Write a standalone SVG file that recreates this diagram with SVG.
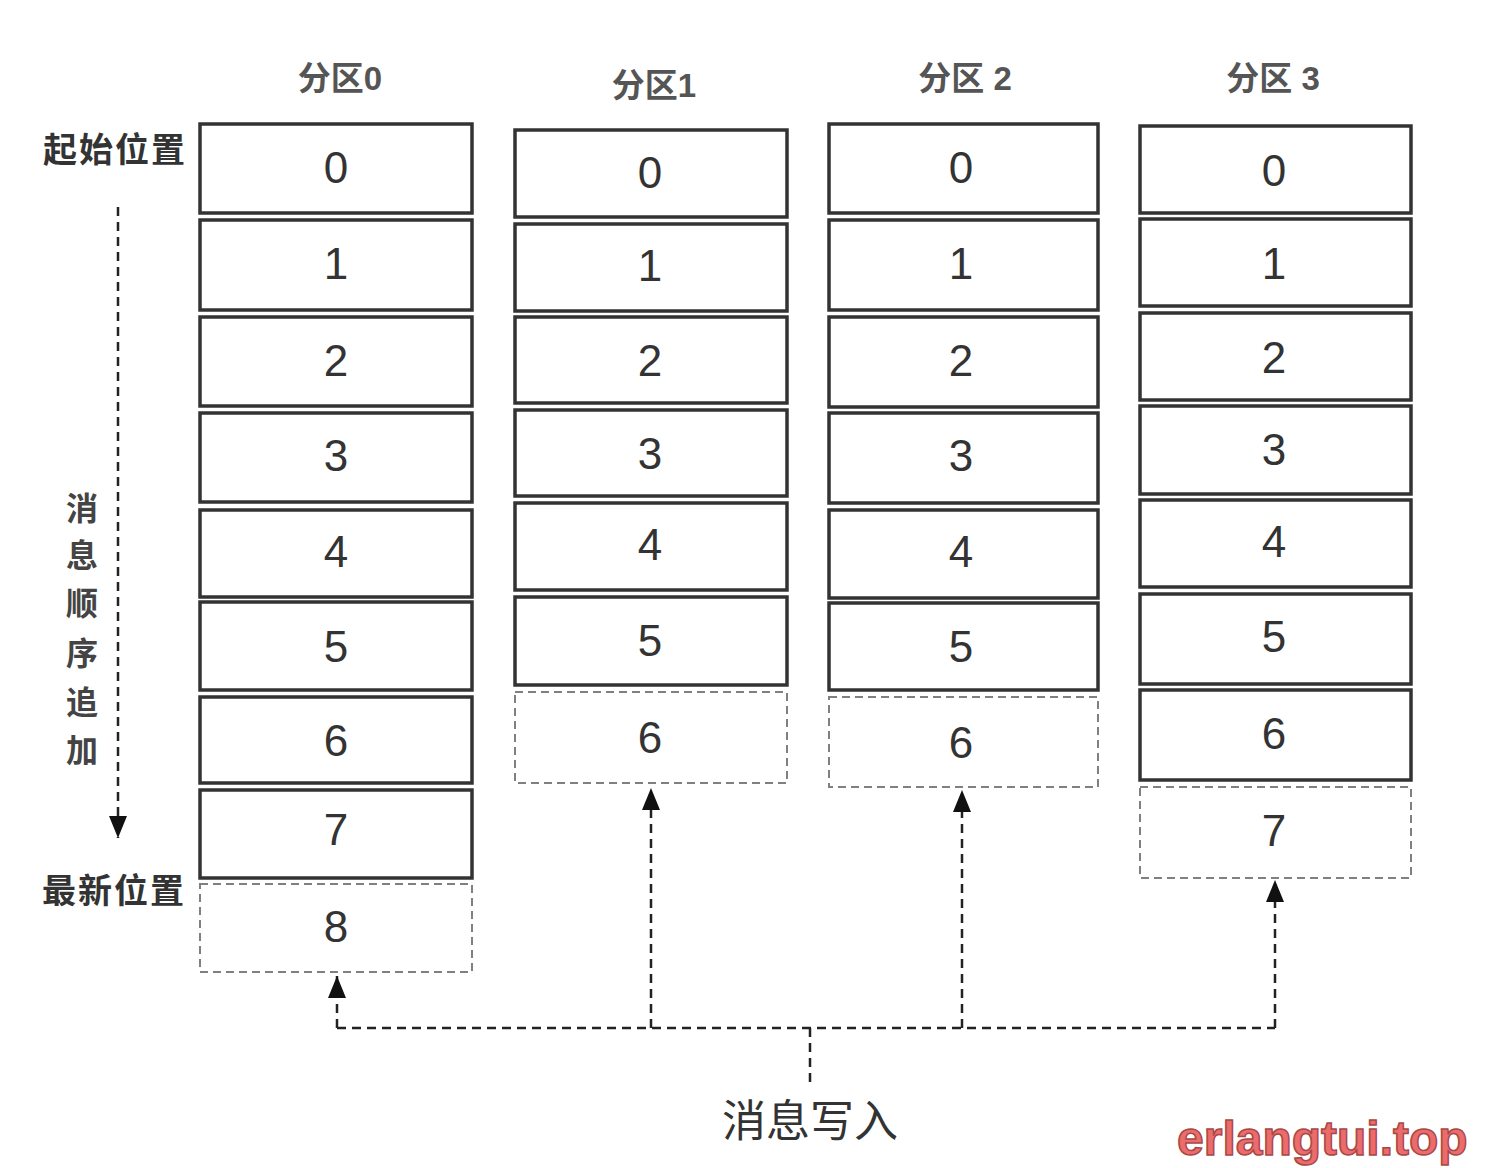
<svg xmlns="http://www.w3.org/2000/svg" width="1490" height="1168" viewBox="0 0 1490 1168">
<style>
.cell{fill:#fff;stroke:#333;stroke-width:3.5}
.pend{fill:#fff;stroke:#808080;stroke-width:2;stroke-dasharray:8 5}
.num{font-family:"Liberation Sans",Arial,sans-serif;font-size:44px;fill:#333;text-anchor:middle}
.hdr{font-family:"Liberation Sans","Noto Sans CJK SC",sans-serif;font-size:33px;fill:#555;text-anchor:middle;font-weight:bold}
.lbl{font-family:"Noto Sans CJK SC",sans-serif;font-size:34px;fill:#333;font-weight:bold}
.vch{font-family:"Noto Sans CJK SC",sans-serif;font-size:32px;fill:#444;text-anchor:middle;font-weight:bold}
.title{font-family:"Noto Sans CJK SC",sans-serif;font-size:44px;fill:#333;text-anchor:middle}
.conn{fill:none;stroke:#222;stroke-width:2.5;stroke-dasharray:9 6}
.wm{font-family:"Liberation Sans",Arial,sans-serif;font-size:48px;font-weight:bold;fill:#ec6b6b;stroke:#a84848;stroke-width:1.5}
</style>
<defs>
<marker id="arr" viewBox="0 0 10 10" refX="10" refY="5" markerWidth="22" markerHeight="18" orient="auto" markerUnits="userSpaceOnUse" preserveAspectRatio="none">
<path d="M0,0 L10,5 L0,10 z" fill="#111"/>
</marker>
</defs>
<rect width="1490" height="1168" fill="#fff"/>

<g id="labels">
<text class="hdr" x="340" y="90">分区0</text>
<text class="hdr" x="654" y="97">分区1</text>
<text class="hdr" x="965" y="90">分区 2</text>
<text class="hdr" x="1273" y="90">分区 3</text>
<text class="lbl" x="43" y="162" letter-spacing="2">起始位置</text>
<text class="lbl" x="42" y="903" letter-spacing="2">最新位置</text>
<g id="order-label">
<text class="vch" x="82" y="520">消</text>
<text class="vch" x="82" y="567">息</text>
<text class="vch" x="82" y="615">顺</text>
<text class="vch" x="82" y="665">序</text>
<text class="vch" x="82" y="714">追</text>
<text class="vch" x="82" y="762">加</text>
</g>
<text class="title" x="810" y="1137">消息写入</text>
<text class="wm" x="1177" y="1155">erlangtui.top</text>
</g>

<g id="partition0">
<rect class="cell" x="200" y="124" width="272" height="89"/><text class="num" x="336" y="183">0</text>
<rect class="cell" x="200" y="220" width="272" height="90"/><text class="num" x="336" y="279">1</text>
<rect class="cell" x="200" y="317" width="272" height="89"/><text class="num" x="336" y="376">2</text>
<rect class="cell" x="200" y="413" width="272" height="89"/><text class="num" x="336" y="471">3</text>
<rect class="cell" x="200" y="510" width="272" height="87"/><text class="num" x="336" y="567">4</text>
<rect class="cell" x="200" y="602" width="272" height="88"/><text class="num" x="336" y="662">5</text>
<rect class="cell" x="200" y="697" width="272" height="86"/><text class="num" x="336" y="756">6</text>
<rect class="cell" x="200" y="790" width="272" height="88"/><text class="num" x="336" y="845">7</text>
<rect class="pend" x="200" y="884" width="272" height="88"/><text class="num" x="336" y="942">8</text>
</g>

<g id="partition1">
<rect class="cell" x="515" y="130" width="272" height="87"/><text class="num" x="650" y="188">0</text>
<rect class="cell" x="515" y="224" width="272" height="87"/><text class="num" x="650" y="281">1</text>
<rect class="cell" x="515" y="317" width="272" height="86"/><text class="num" x="650" y="376">2</text>
<rect class="cell" x="515" y="410" width="272" height="86"/><text class="num" x="650" y="469">3</text>
<rect class="cell" x="515" y="503" width="272" height="87"/><text class="num" x="650" y="560">4</text>
<rect class="cell" x="515" y="597" width="272" height="88"/><text class="num" x="650" y="656">5</text>
<rect class="pend" x="515" y="692" width="272" height="91"/><text class="num" x="650" y="753">6</text>
</g>

<g id="partition2">
<rect class="cell" x="829" y="124" width="269" height="89"/><text class="num" x="961" y="183">0</text>
<rect class="cell" x="829" y="220" width="269" height="90"/><text class="num" x="961" y="279">1</text>
<rect class="cell" x="829" y="317" width="269" height="90"/><text class="num" x="961" y="376">2</text>
<rect class="cell" x="829" y="413" width="269" height="90"/><text class="num" x="961" y="471">3</text>
<rect class="cell" x="829" y="510" width="269" height="88"/><text class="num" x="961" y="567">4</text>
<rect class="cell" x="829" y="603" width="269" height="87"/><text class="num" x="961" y="662">5</text>
<rect class="pend" x="829" y="697" width="269" height="90"/><text class="num" x="961" y="758">6</text>
</g>

<g id="partition3">
<rect class="cell" x="1140" y="126" width="271" height="87"/><text class="num" x="1274" y="186">0</text>
<rect class="cell" x="1140" y="219" width="271" height="87"/><text class="num" x="1274" y="279">1</text>
<rect class="cell" x="1140" y="313" width="271" height="87"/><text class="num" x="1274" y="373">2</text>
<rect class="cell" x="1140" y="406" width="271" height="88"/><text class="num" x="1274" y="465">3</text>
<rect class="cell" x="1140" y="500" width="271" height="87"/><text class="num" x="1274" y="557">4</text>
<rect class="cell" x="1140" y="594" width="271" height="90"/><text class="num" x="1274" y="652">5</text>
<rect class="cell" x="1140" y="690" width="271" height="90"/><text class="num" x="1274" y="749">6</text>
<rect class="pend" x="1140" y="787" width="271" height="91"/><text class="num" x="1274" y="846">7</text>
</g>

<g id="connectors">
<path class="conn" d="M118,207 V838" marker-end="url(#arr)"/>
<path class="conn" d="M810,1082 V1028"/>
<path class="conn" d="M337,1028 H1275"/>
<path class="conn" d="M337,1028 V976" marker-end="url(#arr)"/>
<path class="conn" d="M651,1028 V788" marker-end="url(#arr)"/>
<path class="conn" d="M962,1028 V790" marker-end="url(#arr)"/>
<path class="conn" d="M1275,1028 V880" marker-end="url(#arr)"/>
</g>
</svg>
